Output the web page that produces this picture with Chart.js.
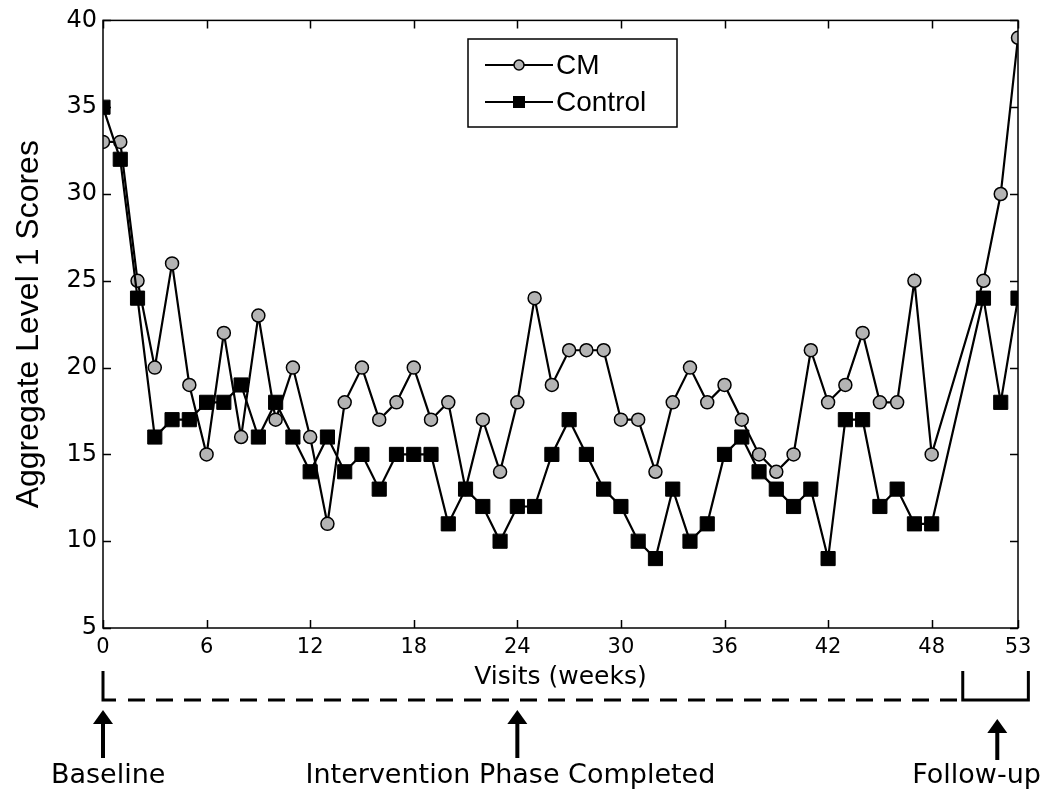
<!DOCTYPE html>
<html><head><meta charset="utf-8">
<script src="https://cdn.jsdelivr.net/npm/chart.js@4.4.1/dist/chart.umd.min.js"></script>
<style>html,body{margin:0;padding:0;background:#fff}#wrap{width:1050px;height:798px}</style>
</head><body><div id="wrap"><canvas id="c" width="1050" height="798"></canvas></div>
<script>
const weeks = [0,1,2,3,4,5,6,7,8,9,10,11,12,13,14,15,16,17,18,19,20,21,22,23,24,25,26,27,28,29,30,31,32,33,34,35,36,37,38,39,40,41,42,43,44,45,46,47,48,51,52,53];
const cmScores = [33,33,25,20,26,19,15,22,16,23,17,20,16,11,18,20,17,18,20,17,18,13,17,14,18,24,19,21,21,21,17,17,14,18,20,18,19,17,15,14,15,21,18,19,22,18,18,25,15,25,30,39];
const controlScores = [35,32,24,16,17,17,18,18,19,16,18,16,14,16,14,15,13,15,15,15,11,13,12,10,12,12,15,17,15,13,12,10,9,13,10,11,15,16,14,13,12,13,9,17,17,12,13,11,11,24,18,24];
const xTickValues = [0,6,12,18,24,30,36,42,48,53];
const yTickValues = [5,10,15,20,25,30,35,40];
const seriesNames = ['CM','Control'];
const xAxisTitle = 'Visits (weeks)';
const yAxisTitle = 'Aggregate Level 1 Scores';
const phaseLabels = ['Baseline','Intervention Phase Completed','Follow-up'];

const CM_FILL = '#b4b4b4';

function drawMarker(ctx, style, x, y, r) {
  ctx.save();
  ctx.lineWidth = 1.5;
  ctx.strokeStyle = '#000';
  if (style === 'circle') {
    ctx.fillStyle = CM_FILL;
    ctx.beginPath(); ctx.arc(x, y, r, 0, Math.PI*2); ctx.fill(); ctx.stroke();
  } else {
    ctx.fillStyle = '#000';
    ctx.fillRect(x - r, y - r, 2*r, 2*r);
  }
  ctx.restore();
}

function arrow(ctx, x, tipY, baseY) {
  ctx.save();
  ctx.fillStyle = '#000';
  ctx.fillRect(x - 2, tipY + 12, 4, baseY - tipY - 12);
  ctx.beginPath();
  ctx.moveTo(x, tipY); ctx.lineTo(x - 10, tipY + 14); ctx.lineTo(x + 10, tipY + 14); ctx.closePath(); ctx.fill();
  ctx.restore();
}

const framePlugin = {
  id: 'frame',
  afterDraw(chart) {
    const ctx = chart.ctx;
    const ca = chart.chartArea;
    const xs = chart.scales.x, ys = chart.scales.y;
    ctx.save();
    ctx.strokeStyle = '#000';
    ctx.lineWidth = 1.5;
    ctx.strokeRect(ca.left, ca.top, ca.right - ca.left, ca.bottom - ca.top);
    ctx.beginPath();
    xTickValues.forEach(v => {
      const px = Math.round(xs.getPixelForValue(v)) + 0.5;
      ctx.moveTo(px, ca.bottom); ctx.lineTo(px, ca.bottom - 8);
      ctx.moveTo(px, ca.top); ctx.lineTo(px, ca.top + 8);
    });
    yTickValues.forEach(v => {
      const py = Math.round(ys.getPixelForValue(v)) + 0.5;
      ctx.moveTo(ca.left, py); ctx.lineTo(ca.left + 8, py);
      ctx.moveTo(ca.right, py); ctx.lineTo(ca.right - 8, py);
    });
    ctx.stroke();

    // phase brackets
    const x0 = xs.getPixelForValue(0);
    const xEnd = xs.getPixelForValue(49.6);
    const fA = xs.getPixelForValue(49.8), fB = xs.getPixelForValue(53.6);
    ctx.lineWidth = 3;
    ctx.beginPath();
    ctx.moveTo(x0, 671); ctx.lineTo(x0, 700); ctx.lineTo(x0 + 13, 700);
    ctx.stroke();
    ctx.setLineDash([17, 11]);
    ctx.beginPath();
    ctx.moveTo(x0 + 25, 700); ctx.lineTo(xEnd, 700);
    ctx.stroke();
    ctx.setLineDash([]);
    ctx.beginPath();
    ctx.moveTo(fA, 671); ctx.lineTo(fA, 700); ctx.lineTo(fB, 700); ctx.lineTo(fB, 671);
    ctx.stroke();

    arrow(ctx, x0, 710, 758);
    arrow(ctx, xs.getPixelForValue(24), 710, 758);
    arrow(ctx, xs.getPixelForValue(51.8), 719, 760);

    ctx.fillStyle = '#000';
    ctx.font = '27px "DejaVu Sans"';
    ctx.textAlign = 'center';
    ctx.textBaseline = 'middle';
    ctx.fillText(phaseLabels[0], xs.getPixelForValue(0.3), 776);
    ctx.fillText(phaseLabels[1], xs.getPixelForValue(23.6), 776);
    ctx.fillText(phaseLabels[2], xs.getPixelForValue(50.6), 776);

    // legend
    ctx.lineWidth = 1.5;
    ctx.strokeStyle = '#000';
    ctx.strokeRect(468, 39, 209, 88);
    const rows = [65, 102];
    const styles = ['circle', 'rect'];
    ctx.textAlign = 'left';
    ctx.font = '28px "Liberation Sans", Arial';
    rows.forEach((ry, i) => {
      ctx.lineWidth = 2;
      ctx.beginPath(); ctx.moveTo(485, ry); ctx.lineTo(553, ry); ctx.stroke();
      drawMarker(ctx, styles[i], 519, ry, styles[i] === 'circle' ? 5 : 6);
      ctx.fillStyle = '#000';
      ctx.fillText(seriesNames[i], 556, ry + 1);
    });
    ctx.restore();
  }
};

const toPts = arr => arr.map((v, i) => ({x: weeks[i], y: v}));

new Chart(document.getElementById('c'), {
  type: 'line',
  data: {
    datasets: [
      {
        label: seriesNames[1],
        data: toPts(controlScores),
        borderColor: '#000', borderWidth: 2.2,
        pointStyle: 'rect', pointRadius: 10, pointBackgroundColor: '#000', pointBorderColor: '#000', pointBorderWidth: 1,
        tension: 0, fill: false
      },
      {
        label: seriesNames[0],
        data: toPts(cmScores),
        borderColor: '#000', borderWidth: 2.2,
        pointStyle: 'circle', pointRadius: 6.5, pointBackgroundColor: CM_FILL, pointBorderColor: '#000', pointBorderWidth: 1.5,
        tension: 0, fill: false
      }
    ]
  },
  options: {
    responsive: false,
    animation: false,
    devicePixelRatio: 1,
    layout: {padding: {left: 0, right: 32, top: 16, bottom: 0}},
    plugins: {legend: {display: false}, tooltip: {enabled: false}},
    scales: {
      x: {
        type: 'linear', min: 0, max: 53,
        afterBuildTicks: axis => { axis.ticks = xTickValues.map(v => ({value: v})); },
        afterFit: s => { s.height = 170; },
        grid: {display: false, drawTicks: false},
        border: {display: false},
        ticks: {color: '#000', font: {family: '"DejaVu Sans"', size: 21}, padding: 7, maxRotation: 0, autoSkip: false},
        title: {display: true, text: xAxisTitle, color: '#000', font: {family: '"DejaVu Sans"', size: 25}, padding: {top: 0, bottom: 106}}
      },
      y: {
        min: 5, max: 40,
        afterBuildTicks: axis => { axis.ticks = yTickValues.map(v => ({value: v})); },
        afterFit: s => { s.width = 103; },
        grid: {display: false, drawTicks: false},
        border: {display: false},
        ticks: {color: '#000', font: {family: '"DejaVu Sans"', size: 24}, padding: 6},
        title: {display: true, text: yAxisTitle, color: '#000', font: {family: '"Liberation Sans"', size: 32}, padding: {top: 10, bottom: 0}}
      }
    }
  },
  plugins: [framePlugin]
});
</script>
</body></html>
